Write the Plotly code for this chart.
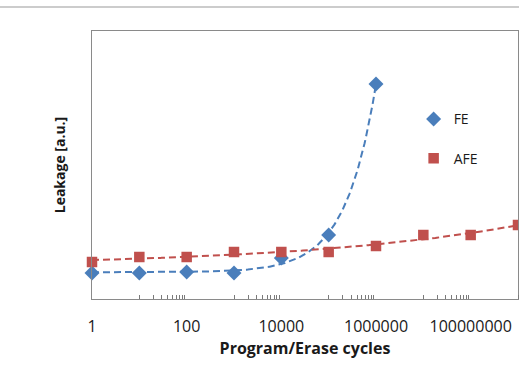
import numpy as np
import plotly.graph_objects as go

# Data
cycles_fe = [1, 10, 100, 1000, 10000, 100000, 1000000]
leak_fe = [26, 26, 27, 26, 41, 64, 215]
cycles_afe = [1, 10, 100, 1000, 10000, 100000, 1000000, 10000000, 100000000, 1000000000]
leak_afe = [37, 42, 42, 47, 47, 47, 53, 64, 64, 74]
tick_vals = [1, 100, 10000, 1000000, 100000000]
tick_text = ["1", "100", "10000", "1000000", "100000000"]

BLUE = "#4A7EBB"
RED = "#C0504D"
FONT = "Open Sans"


def trend(xs, ys, n=300):
    """Least-squares trendline y = a + b*r**log10(x)."""
    u = np.log10(np.asarray(xs, float))
    y = np.asarray(ys, float)
    best = None
    for r in np.linspace(1.01, 12, 2000):
        A = np.column_stack([np.ones_like(u), r ** u])
        coef, *_ = np.linalg.lstsq(A, y, rcond=None)
        err = np.sum((A @ coef - y) ** 2)
        if best is None or err < best[0]:
            best = (err, r, coef)
    _, r, (a, b) = best
    uu = np.linspace(u.min(), u.max(), n)
    return 10 ** uu, a + b * r ** uu


fx, fy = trend(cycles_fe, leak_fe)
ax_, ay_ = trend(cycles_afe, leak_afe)

# minor ticks (Excel-like): 10..90 x 100^k
minor_vals = []
for k in range(0, 5):
    for m in range(1, 10):
        v = 10 * m * 100 ** k
        if v <= 1e9:
            minor_vals.append(v)

fig = go.Figure()
fig.add_trace(go.Scatter(x=fx, y=fy, mode="lines", showlegend=False,
                         line=dict(color=BLUE, width=2, dash="7px,4px"), hoverinfo="skip"))
fig.add_trace(go.Scatter(x=ax_, y=ay_, mode="lines", showlegend=False,
                         line=dict(color=RED, width=2, dash="7px,4px"), hoverinfo="skip"))
fig.add_trace(go.Scatter(x=cycles_fe, y=leak_fe, mode="markers", name="FE",
                         legendgroup="a", legendrank=1, cliponaxis=False,
                         marker=dict(symbol="diamond", size=11.5, color=BLUE)))
fig.add_trace(go.Scatter(x=cycles_afe, y=leak_afe, mode="markers", name="AFE",
                         legendgroup="b", legendrank=2, cliponaxis=False,
                         marker=dict(symbol="square", size=10.5, color=RED)))

fig.update_layout(
    width=519, height=365,
    margin=dict(l=92, r=1, t=31, b=66, autoexpand=False),
    paper_bgcolor="white", plot_bgcolor="white",
    font=dict(family=FONT, color="#1a1a1a"),
    showlegend=True,
    legend=dict(x=0.755, y=0.73, xanchor="left", yanchor="top",
                traceorder="grouped", tracegroupgap=18,
                font=dict(size=14, family=FONT, color="#1a1a1a"),
                bgcolor="rgba(0,0,0,0)"),
    xaxis=dict(type="log", range=[0, 9],
               tickvals=tick_vals, ticktext=tick_text,
               ticks="", ticklabelstandoff=13,
               tickfont=dict(size=16, family=FONT, color="#1a1a1a"),
               showgrid=False, zeroline=False,
               showline=True, linecolor="#8a8a8a", linewidth=1, mirror=True,
               minor=dict(tickmode="array", tickvals=minor_vals, ticks="inside",
                          ticklen=4, tickcolor="#7a7a7a", tickwidth=1, showgrid=False),
               title=dict(text="<b>Program/Erase cycles</b>", standoff=6,
                          font=dict(size=16, family=FONT, color="#1a1a1a"))),
    yaxis=dict(range=[0, 268], showticklabels=False, ticks="",
               showgrid=False, zeroline=False,
               showline=True, linecolor="#8a8a8a", linewidth=1, mirror=True,
               title=dict(text="<b>Leakage [a.u.]</b>", standoff=22,
                          font=dict(size=14, family=FONT, color="#1a1a1a"))),
    shapes=[dict(type="line", xref="paper", yref="paper",
                 x0=-92 / 426, x1=427 / 426, y0=1 + 24 / 268, y1=1 + 24 / 268,
                 line=dict(color="#cccccc", width=2))],
)

fig.write_html("out.html", config={"displayModeBar": False},
               post_script="document.body.style.margin='0';document.body.style.padding='0';")
